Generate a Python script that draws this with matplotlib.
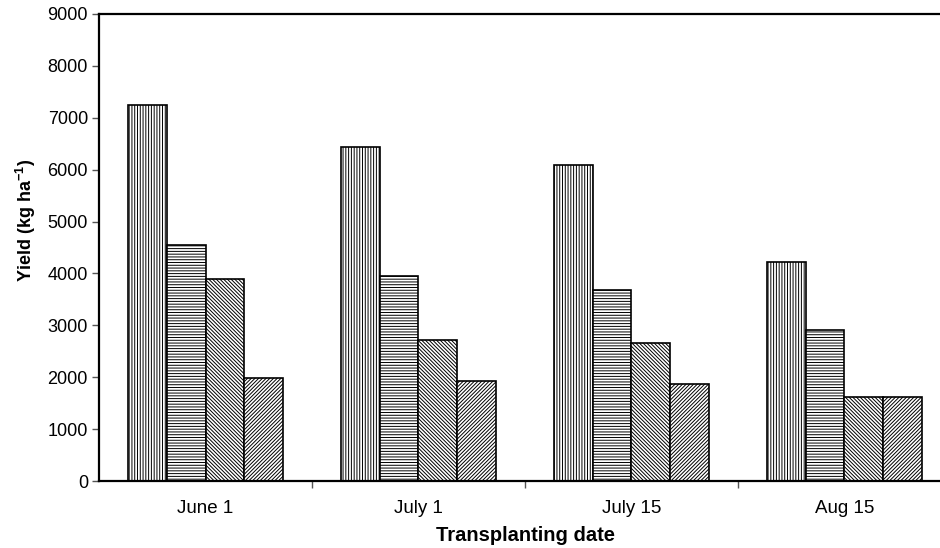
import numpy as np
import matplotlib
matplotlib.use("Agg")
import matplotlib.pyplot as plt

# Yield by transplanting date, four treatments per date
dates = ["June 1", "July 1", "July 15", "Aug 15"]
treat_a = [7240, 6440, 6090, 4230]
treat_b = [4550, 3960, 3690, 2910]
treat_c = [3890, 2710, 2650, 1620]
treat_d = [1980, 1930, 1860, 1620]
yticks = [0, 1000, 2000, 3000, 4000, 5000, 6000, 7000, 8000, 9000]

plt.rcParams["font.family"] = ["Liberation Sans", "DejaVu Sans"]
plt.rcParams["hatch.linewidth"] = 0.7
plt.rcParams["hatch.color"] = "black"

fig = plt.figure(figsize=(9.4, 5.48), dpi=100)
ax = fig.add_axes([99 / 940, 67 / 548, 852 / 940, 467 / 548])

series = [treat_a, treat_b, treat_c, treat_d]
hatches = ["||||||", "------", "\\" * 9, "/" * 9]
width = 0.182
x = np.arange(len(dates)) + 0.5
for k, (vals, h) in enumerate(zip(series, hatches)):
    ax.bar(x + (k - 1.5) * width, vals, width, facecolor="white",
           edgecolor="black", linewidth=1.2, hatch=h)

ax.set_xlim(0, 4)
ax.set_ylim(0, 9000)
ax.set_yticks(yticks)
ax.set_yticklabels([str(v) for v in yticks], fontsize=13)

# boundaries get tick marks, group centres get the labels
ax.set_xticks([1, 2, 3])
ax.set_xticklabels([])
ax.set_xticks(x, minor=True)
ax.set_xticklabels(dates, minor=True, fontsize=13.5)
ax.tick_params(axis="x", which="minor", length=0, pad=14)
ax.tick_params(axis="x", which="major", length=5, width=1, color="#555555")
ax.tick_params(axis="y", length=5, width=1, color="#555555", pad=3)

for side in ["top", "bottom", "left"]:
    ax.spines[side].set_linewidth(1.6)
ax.spines["right"].set_visible(False)

ax.set_xlabel("Transplanting date", fontsize=14.5, fontweight="bold", labelpad=6)
ax.set_ylabel("Yield (kg ha$^{\\mathregular{-1}}$)", fontsize=13,
              fontweight="bold")
ax.yaxis.set_label_coords(-0.072, 0.557)

fig.savefig("out.png", dpi=100)
